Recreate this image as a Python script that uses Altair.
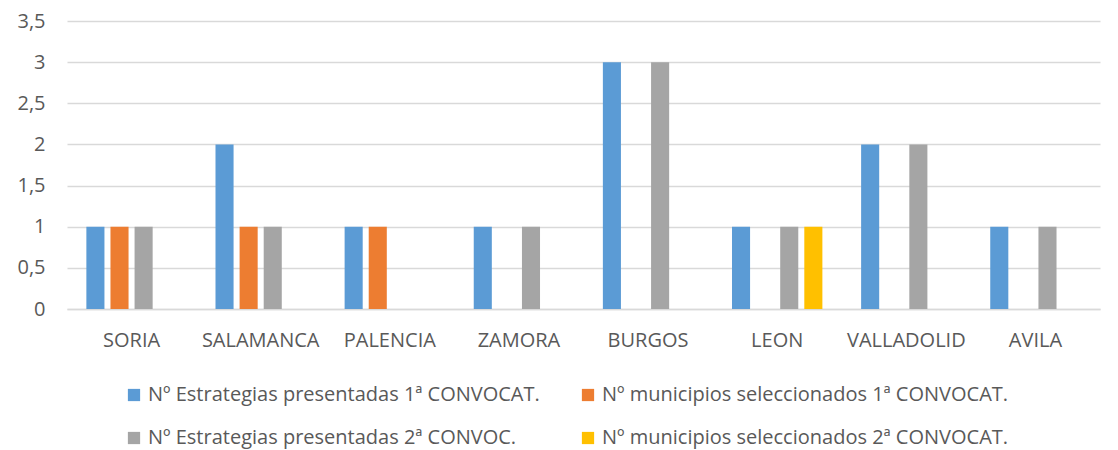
import altair as alt
import pandas as pd

provincias = ["SORIA", "SALAMANCA", "PALENCIA", "ZAMORA", "BURGOS", "LEON", "VALLADOLID", "AVILA"]
series = [
    "Nº Estrategias presentadas 1ª CONVOCAT.",
    "Nº municipios seleccionados 1ª CONVOCAT.",
    "Nº Estrategias presentadas 2ª CONVOC.",
    "Nº municipios seleccionados 2ª CONVOCAT.",
]
est_1 = [1, 2, 1, 1, 3, 1, 2, 1]
mun_1 = [1, 1, 1, 0, 0, 0, 0, 0]
est_2 = [1, 1, 0, 1, 3, 1, 2, 1]
mun_2 = [0, 0, 0, 0, 0, 1, 0, 0]
colores = ["#5B9BD5", "#ED7D31", "#A5A5A5", "#FFC000"]

rows = []
for s, vals in zip(series, [est_1, mun_1, est_2, mun_2]):
    for p, v in zip(provincias, vals):
        rows.append({"provincia": p, "serie": s, "valor": v})
df = pd.DataFrame(rows)

FONT = "Open Sans"
TXT = "#595959"
FS = 20

chart = alt.Chart(df).mark_bar().encode(
    x=alt.X("provincia:N", sort=provincias, title=None,
            scale=alt.Scale(paddingInner=0.3, paddingOuter=0.15),
            axis=alt.Axis(labelAngle=0, labelFontSize=FS, labelFont=FONT, labelColor=TXT,
                          domainColor="#D9D9D9", domainWidth=1.5, ticks=False, labelPadding=21)),
    xOffset=alt.XOffset("serie:N", sort=series,
                        scale=alt.Scale(paddingInner=0.25, paddingOuter=0)),
    y=alt.Y("valor:Q", title=None,
            scale=alt.Scale(domain=[0, 3.5], nice=False),
            axis=alt.Axis(values=[0, 0.5, 1, 1.5, 2, 2.5, 3, 3.5],
                          labelExpr="replace(toString(datum.value), '.', ',')",
                          labelFontSize=FS, labelFont=FONT, labelColor=TXT,
                          domain=False, ticks=False, labelPadding=22,
                          gridColor="#D9D9D9", gridWidth=1.5,
                          minExtent=50, maxExtent=50)),
    color=alt.Color("serie:N", sort=series,
                    scale=alt.Scale(domain=series, range=colores),
                    legend=alt.Legend(title=None, orient="none", legendX=57, legendY=364,
                                      columns=2, direction="horizontal",
                                      symbolType="square", symbolSize=150,
                                      symbolStrokeWidth=0,
                                      labelFontSize=FS, labelFont=FONT, labelColor=TXT,
                                      labelLimit=700, columnPadding=38, rowPadding=23)),
).properties(
    width=1033, height=288,
    padding={"left": 59, "top": 13, "right": 10, "bottom": 141},
    autosize=alt.AutoSizeParams(type="none"),
).configure_view(stroke=None)

chart.save("out.html", embed_options={"renderer": "svg", "actions": False})
